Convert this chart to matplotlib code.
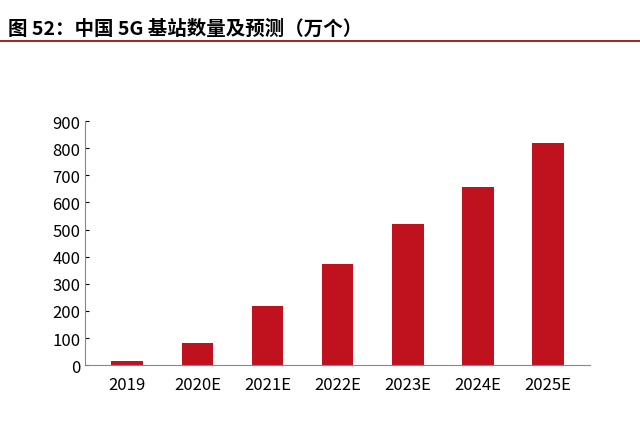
import matplotlib
matplotlib.use("Agg")
import matplotlib.pyplot as plt
from matplotlib.lines import Line2D

plt.rcParams['font.family'] = ['Noto Sans CJK SC', 'DejaVu Sans']

years = ['2019', '2020E', '2021E', '2022E', '2023E', '2024E', '2025E']
stations = [15, 83, 218, 373, 520, 658, 820]

fig = plt.figure(figsize=(6.4, 4.39), dpi=100)
ax = fig.add_axes([0.133, 0.166, 0.789, 0.556])
ax.bar(years, stations, width=0.45, color='#C0111F')

ax.set_ylim(0, 900)
ax.set_yticks(range(0, 901, 100))
ax.set_xlim(-0.6, 6.6)
for s in ['top', 'right']:
    ax.spines[s].set_visible(False)
ax.spines['left'].set_color('#888888')
ax.spines['bottom'].set_color('#888888')
ax.tick_params(axis='y', direction='in', length=3, labelsize=12, colors='black')
ax.tick_params(axis='x', length=0, labelsize=12, pad=8)

fig.text(0.012, 0.955, '图 52：中国 5G 基站数量及预测（万个）', fontsize=14,
         fontweight='bold', va='top', ha='left')
fig.add_artist(Line2D([0.0, 1.0], [0.905, 0.905], color='#8B0000', lw=1.2))

fig.savefig('out.png')
